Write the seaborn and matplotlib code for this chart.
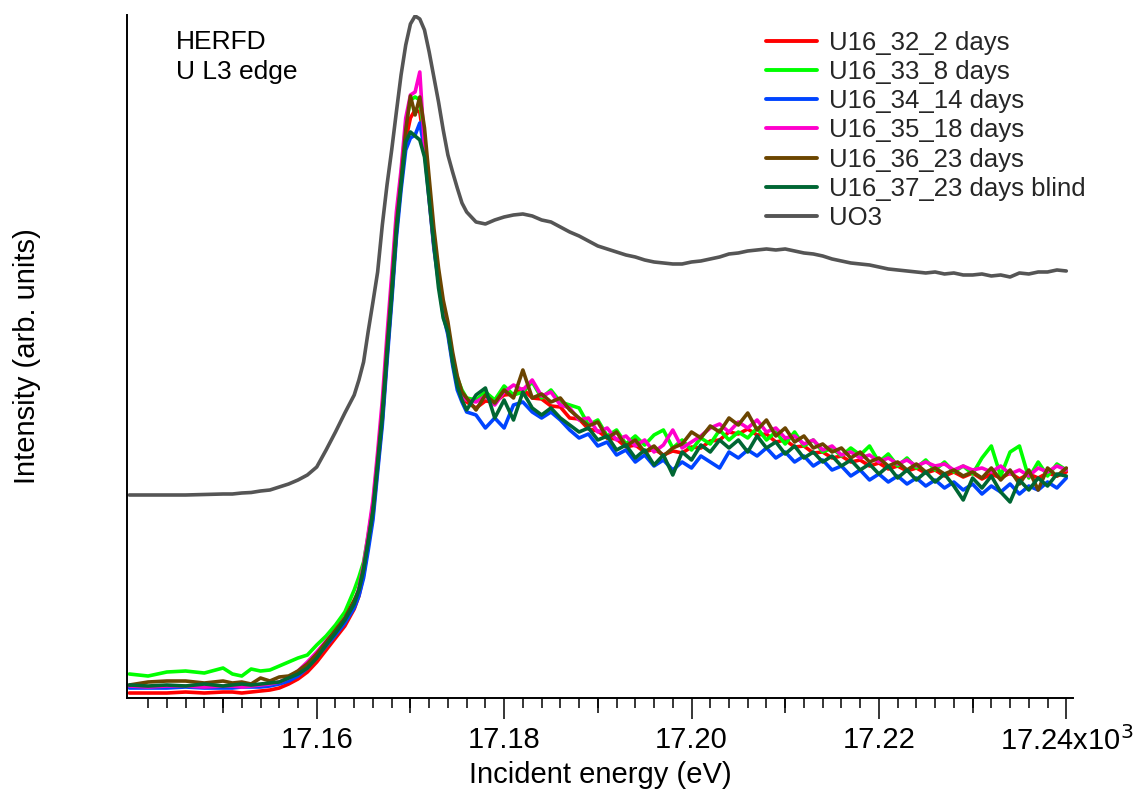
import numpy as np
import pandas as pd
import matplotlib
matplotlib.use("Agg")
import matplotlib.pyplot as plt
from matplotlib.ticker import FixedLocator
import seaborn as sns

sns.set_style("white")
plt.rcParams["font.family"] = ["Liberation Sans", "DejaVu Sans"]

# ---------------- data ----------------
# incident energy grid (eV), converted to keV (axis shows keV x10^3)
energy_eV = np.concatenate([
    np.arange(17140, 17151, 2),
    np.arange(17151, 17164, 1),
    np.arange(17164, 17176.1, 0.5),
    np.arange(17177, 17241, 1),
])
energy = energy_eV / 1000.0

labels = ["U16_32_2 days", "U16_33_8 days", "U16_34_14 days", "U16_35_18 days",
          "U16_36_23 days", "U16_37_23 days blind", "UO3"]
colors = ["#ff0000", "#00ff00", "#0044ff", "#ff00cc", "#6b4500", "#006633", "#555555"]

u16_32 = ([5, 5, 5, 6, 5, 6] +
          [6, 5, 6, 7, 8, 10, 14, 19, 26, 36, 48, 60, 72] +
          [89, 102, 123, 153, 183, 230, 278, 341, 402, 466, 516, 558, 580, 588, 586, 553, 503, 455, 420, 390,
           370, 340, 318, 305, 296] +
          [290, 297, 296, 303, 304, 309, 300, 299, 292, 291, 280, 279, 269, 267, 260, 259, 251, 253, 246, 249,
           243, 247, 245, 251, 250, 257, 258, 266, 264, 269, 263, 264, 256, 258, 251, 252, 245, 246, 240, 242,
           236, 238, 232, 235, 229, 232, 227, 230, 225, 228, 222, 226, 221, 225, 219, 224, 220, 225, 219, 224,
           220, 225, 222, 226])

u16_33 = ([24, 22, 26, 27, 25, 30] +
          [24, 22, 29, 27, 28, 32, 36, 40, 43, 53, 62, 73, 86] +
          [108, 121, 136, 163, 193, 240, 288, 353, 413, 478, 523, 573, 598, 601, 598, 558, 506, 458, 422, 390,
           370, 340, 320, 308, 300] +
          [298, 306, 298, 312, 303, 306, 316, 300, 308, 296, 293, 290, 273, 278, 262, 268, 254, 262, 253, 263,
           268, 250, 258, 248, 260, 254, 268, 258, 266, 260, 270, 258, 266, 254, 266, 252, 258, 246, 250, 242,
           250, 243, 252, 236, 244, 232, 240, 230, 238, 228, 236, 226, 232, 224, 240, 252, 222, 246, 252, 220,
           236, 222, 234, 228])

u16_34 = ([10, 10, 10, 11, 10, 10] +
          [10, 11, 11, 11, 12, 14, 17, 22, 30, 41, 52, 63, 75] +
          [90, 102, 120, 148, 178, 226, 273, 336, 396, 460, 508, 548, 560, 563, 575, 548, 498, 450, 416, 383,
           363, 333, 308, 296, 286] +
          [283, 270, 280, 270, 293, 296, 286, 280, 286, 278, 268, 260, 264, 252, 256, 243, 248, 236, 243, 232,
           238, 228, 236, 230, 242, 236, 230, 246, 240, 248, 242, 250, 240, 246, 236, 242, 232, 238, 228, 232,
           222, 228, 218, 224, 216, 222, 214, 220, 212, 218, 210, 216, 208, 214, 204, 212, 206, 214, 204, 212,
           208, 216, 210, 220])

u16_35 = ([12, 11, 12, 12, 11, 12] +
          [12, 11, 12, 13, 14, 16, 20, 27, 36, 46, 57, 67, 80] +
          [95, 110, 133, 165, 198, 246, 298, 363, 423, 486, 528, 580, 603, 606, 626, 550, 500, 453, 418, 386,
           368, 338, 316, 302, 298] +
          [296, 302, 293, 306, 313, 308, 318, 302, 306, 293, 290, 278, 280, 266, 270, 258, 262, 252, 258, 246,
           253, 268, 250, 256, 262, 270, 274, 266, 276, 270, 278, 266, 270, 260, 262, 254, 258, 248, 252, 243,
           246, 240, 243, 236, 240, 234, 238, 232, 236, 232, 234, 228, 232, 228, 230, 226, 232, 224, 228, 222,
           230, 226, 232, 228])

u16_36 = ([13, 16, 17, 17, 15, 17] +
          [15, 16, 14, 20, 17, 21, 22, 27, 34, 44, 56, 68, 80] +
          [98, 108, 130, 158, 188, 236, 286, 350, 410, 473, 518, 568, 602, 583, 601, 570, 520, 470, 430, 398,
           376, 346, 322, 306, 300] +
          [288, 303, 295, 308, 300, 328, 300, 304, 296, 300, 288, 280, 272, 276, 260, 266, 252, 258, 246, 252,
           242, 250, 254, 266, 260, 272, 266, 280, 273, 285, 268, 278, 262, 270, 256, 262, 250, 254, 246, 250,
           240, 246, 236, 240, 232, 236, 228, 234, 226, 230, 224, 228, 222, 226, 220, 230, 218, 228, 214, 228,
           208, 230, 222, 230])

u16_37 = ([13, 12, 13, 12, 14, 12] +
          [13, 14, 13, 14, 15, 16, 20, 24, 30, 40, 53, 65, 78] +
          [94, 108, 128, 156, 186, 233, 280, 343, 402, 466, 513, 556, 566, 562, 558, 541, 498, 453, 410, 380,
           366, 336, 312, 298, 288] +
          [303, 310, 280, 298, 278, 306, 290, 283, 290, 280, 273, 266, 270, 258, 262, 248, 253, 240, 248, 233,
           243, 223, 246, 238, 253, 246, 258, 250, 258, 246, 262, 250, 256, 244, 252, 240, 246, 236, 242, 232,
           238, 228, 234, 224, 232, 220, 228, 218, 226, 216, 224, 212, 198, 220, 210, 222, 206, 196, 218, 208,
           220, 212, 224, 222])

uo3 = ([203, 203, 203, 203, 203.5, 204] +
       [204, 205, 205.5, 207, 208, 211, 214, 218, 223, 231, 248, 266, 285] +
       [303, 318, 336, 367, 396, 426, 473, 513, 548, 586, 623, 653, 674, 682, 679, 668, 646, 621, 596, 568,
        543, 526, 510, 495, 486] +
       [476, 474, 478, 481, 483, 484, 482, 478, 476, 471, 466, 462, 457, 452, 449, 446, 443, 441, 438, 436,
        435, 434, 434, 436, 437, 439, 441, 444, 445, 447, 448, 449, 448, 449, 447, 445, 444, 442, 439, 437,
        435, 434, 433, 431, 429, 428, 427, 426, 425, 426, 424, 425, 423, 423, 424, 422, 423, 421, 425, 424,
        426, 426, 428, 427])

series = [u16_32, u16_33, u16_34, u16_35, u16_36, u16_37, uo3]

major_ticks = [17.16, 17.18, 17.20, 17.22, 17.24]
major_labels = ["17.16", "17.18", "17.20", "17.22", "17.24x10$^{3}$"]
mid_ticks = [17.15, 17.17, 17.19, 17.21, 17.23]

frames = []
for lab, vals in zip(labels, series):
    frames.append(pd.DataFrame({"energy": energy, "intensity": np.asarray(vals, float), "sample": lab}))
df = pd.concat(frames, ignore_index=True)

# ---------------- plot ----------------
fig = plt.figure(figsize=(11.35, 7.96), dpi=100)
ax = fig.add_axes([0.1119, 0.1231, 0.8335, 0.8581])

sns.lineplot(data=df, x="energy", y="intensity", hue="sample", hue_order=labels,
             palette=dict(zip(labels, colors)), estimator=None, sort=False,
             linewidth=2.6, ax=ax)

ax.set_xlim(17.13975, 17.24072)
ax.set_ylim(0, 683)
ax.set_yticks([])
ax.set_ylabel("")

for s in ["top", "right"]:
    ax.spines[s].set_visible(False)
for s in ["left", "bottom"]:
    ax.spines[s].set_color("black")
    ax.spines[s].set_linewidth(1.4)

ax.xaxis.set_major_locator(FixedLocator(major_ticks))
ax.set_xticklabels(major_labels)
ax.xaxis.set_minor_locator(FixedLocator(list(np.arange(17142, 17241, 2) / 1000.0)))
ax.tick_params(axis="x", which="major", bottom=True, length=15, width=1.1, direction="out",
               pad=5, labelsize=21, color="black", labelcolor="black")
ax.tick_params(axis="x", which="minor", bottom=True, length=7, width=1.1, direction="out",
               color="black")

sec = ax.secondary_xaxis("bottom")
sec.set_xticks(mid_ticks)
sec.tick_params(axis="x", which="major", bottom=True, length=11, width=1.1, direction="out",
                labelbottom=False, color="black")
sec.spines["bottom"].set_visible(False)

ax.set_xlabel("Incident energy (eV)", fontsize=21, labelpad=4, color="black")
fig.text(27.5 / 1135, 1 - 356 / 796, "Intensity (arb. units)", rotation=90,
         ha="center", va="center", fontsize=21, color="black")

fig.text(176 / 1135, 1 - 30 / 796, "HERFD\nU L3 edge", ha="left", va="top",
         fontsize=19, linespacing=1.3, color="black")

handles, labs = ax.get_legend_handles_labels()
for h in handles:
    h.set_linewidth(2.8)
ax.legend(handles, labs, loc="upper left", bbox_to_anchor=(766 / 1135, 1 - 31 / 796),
          bbox_transform=fig.transFigure, frameon=False, fontsize=18.5,
          handlelength=2.0, handletextpad=0.45, labelspacing=0.2,
          borderpad=0, borderaxespad=0)

fig.savefig("out.png", dpi=100)
